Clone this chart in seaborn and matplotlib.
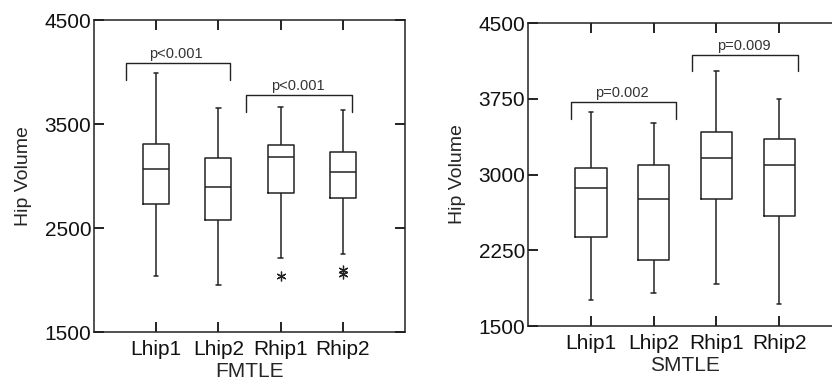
import pandas as pd
import numpy as np
import seaborn as sns
import matplotlib.pyplot as plt

sns.set_style("ticks")
plt.rcParams["font.family"] = ["Liberation Sans", "DejaVu Sans"]

# DATA (box summary)
groups = ["Lhip1", "Lhip2", "Rhip1", "Rhip2"]

fm_low = [2042, 1952, 2212, 2251]
fm_q1 = [2729, 2575, 2835, 2790]
fm_med = [3066, 2892, 3184, 3037]
fm_q3 = [3306, 3172, 3294, 3233]
fm_high = [3993, 3650, 3659, 3630]
fm_out = [[], [], [2036], [2100, 2058]]

sm_low = [1760, 1823, 1919, 1714]
sm_q1 = [2377, 2156, 2759, 2588]
sm_med = [2865, 2759, 3162, 3099]
sm_q3 = [3066, 3099, 3425, 3356]
sm_high = [3616, 3511, 4022, 3745]
sm_out = [[], [], [], []]

# brackets: (x start, x end, leg bottom, top, label, label x)
fm_brackets = [(-0.49, 1.19, 3922, 4089, "p<0.001", 0.31),
               (1.45, 3.15, 3618, 3778, "p<0.001", 2.27)]
sm_brackets = [(-0.32, 1.36, 3554, 3715, "p=0.002", 0.49),
               (1.61, 3.30, 4022, 4184, "p=0.009", 2.43)]

line_col = "#222222"


def build_df(low, q1, med, q3, high, out):
    # 13 points per group -> quartiles sit exactly on index 3, 6 and 9
    rows = []
    for i, g in enumerate(groups):
        tail = list(out[i]) + [low[i]] * (3 - len(out[i]))
        vals = tail + [q1[i], med[i], med[i], med[i], med[i], med[i], q3[i],
                       high[i], high[i], high[i]]
        for v in vals:
            rows.append({"group": g, "value": v})
    return pd.DataFrame(rows)


def draw(ax, df, width, yticks, xlabel, brackets):
    sns.boxplot(data=df, x="group", y="value", order=groups, ax=ax,
                fill=False, color=line_col, linewidth=1.1, width=width,
                whis=1.5,
                flierprops=dict(marker=(6, 2, 0), markersize=7,
                                markeredgecolor=line_col, markeredgewidth=0.9))
    # short whisker caps
    for ln in ax.lines:
        x = np.asarray(ln.get_xdata(), dtype=float)
        y = np.asarray(ln.get_ydata(), dtype=float)
        if len(x) == 2 and y[0] == y[1] and abs(x[1] - x[0]) < 0.75 * width:
            c = x.mean()
            ln.set_xdata([c - 0.035, c + 0.035])
    ax.set_xlim(-1, 4)
    ax.set_ylim(1500, 4500)
    ax.set_xticks(range(len(groups)), groups)
    ax.set_yticks(yticks)
    ax.set_xlabel(xlabel, fontsize=15, labelpad=2)
    ax.set_ylabel("Hip Volume", fontsize=14, labelpad=9)
    ax.tick_params(axis="both", which="major", direction="in",
                   bottom=True, top=True, left=True, right=True,
                   length=7, width=1.3, color="#111111",
                   labelsize=15, labelcolor="#111111")
    ax.tick_params(axis="y", pad=2)
    ax.tick_params(axis="x", pad=6)
    for s in ax.spines.values():
        s.set_visible(True)
        s.set_linewidth(1.1)
        s.set_color(line_col)
    for x0, x1, yb, yt, lab, lx in brackets:
        ax.plot([x0, x0, x1, x1], [yb, yt, yt, yb], color=line_col, lw=1.0)
        ax.text(lx, yt + 20, lab, ha="center", va="bottom", fontsize=10.5,
                color="#333333")


fig = plt.figure(figsize=(8.32, 3.86), dpi=100)
ax1 = fig.add_axes([94 / 832, 54 / 386, 311 / 832, 312 / 386])
ax2 = fig.add_axes([528 / 832, 60 / 386, 314 / 832, 303 / 386])

df_fm = build_df(fm_low, fm_q1, fm_med, fm_q3, fm_high, fm_out)
df_sm = build_df(sm_low, sm_q1, sm_med, sm_q3, sm_high, sm_out)

draw(ax1, df_fm, 0.42, [1500, 2500, 3500, 4500], "FMTLE", fm_brackets)
draw(ax2, df_sm, 0.5, [1500, 2250, 3000, 3750, 4500], "SMTLE", sm_brackets)

fig.savefig("out.png", dpi=100)
